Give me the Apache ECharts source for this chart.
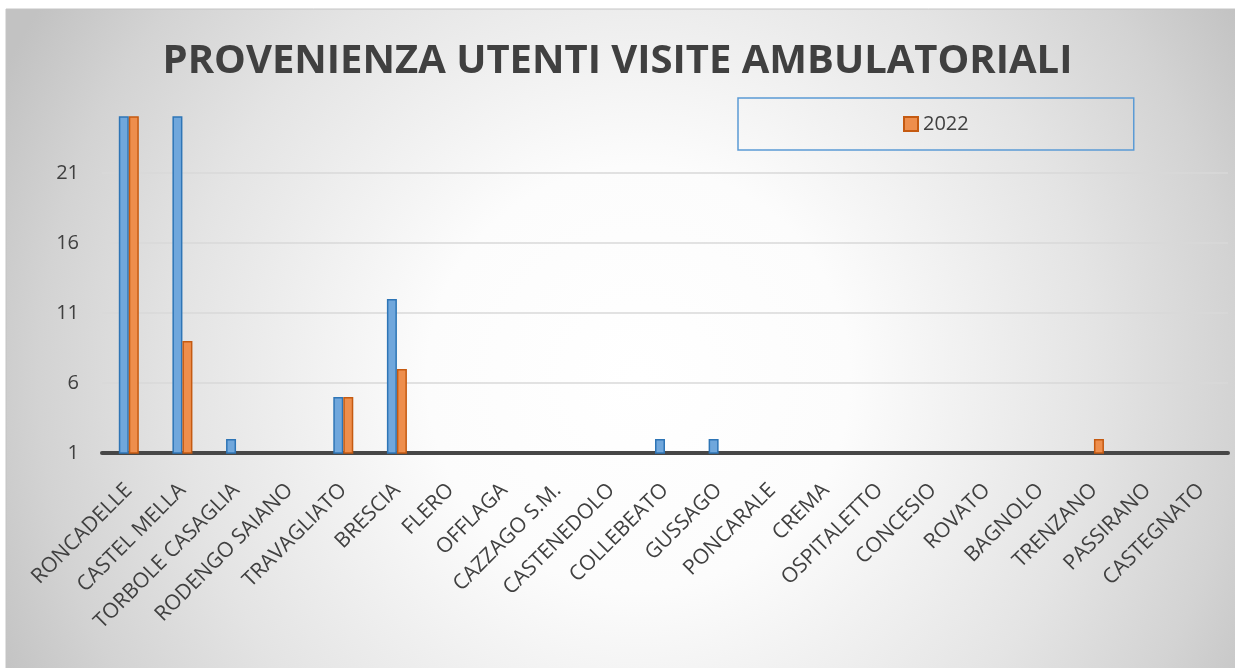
<!DOCTYPE html>
<html>
<head>
<meta charset="utf-8">
<script src="https://cdn.jsdelivr.net/npm/echarts@6/dist/echarts.min.js"></script>
<style>
  html, body { margin: 0; padding: 0; background: #fff; }
  #chart { width: 1235px; height: 668px; }
</style>
</head>
<body>
<div id="chart"></div>
<script>
const categories = ['RONCADELLE', 'CASTEL MELLA', 'TORBOLE CASAGLIA', 'RODENGO SAIANO', 'TRAVAGLIATO',
  'BRESCIA', 'FLERO', 'OFFLAGA', 'CAZZAGO S.M.', 'CASTENEDOLO', 'COLLEBEATO', 'GUSSAGO',
  'PONCARALE', 'CREMA', 'OSPITALETTO', 'CONCESIO', 'ROVATO', 'BAGNOLO', 'TRENZANO',
  'PASSIRANO', 'CASTEGNATO'];
// blue series (not listed in the legend)
const values2021 = [45, 32, 2, 0, 5, 12, 0, 1, 0, 0, 2, 2, 1, 0, 1, 1, 1, 1, 1, 1, 1];
const values2022 = [38, 9, 1, 1, 5, 7, 0, 1, 1, 1, 1, 1, 1, 1, 0, 0, 0, 0, 2, 0, 0];
const yMin = 1;
const yMax = 25;
const yStep = 5;

const chart = echarts.init(document.getElementById('chart'));

const option = {
  animation: false,
  graphic: [{
    type: 'rect',
    z: -10,
    silent: true,
    shape: { x: 6, y: 9, width: 1240, height: 670 },
    style: {
      fill: new echarts.graphic.RadialGradient(0.51, 0.55, 1.05, [
        { offset: 0, color: '#ffffff' },
        { offset: 0.3, color: '#fcfcfc' },
        { offset: 0.65, color: '#e4e4e4' },
        { offset: 0.85, color: '#d3d3d3' },
        { offset: 1, color: '#c2c2c2' }
      ]),
      stroke: '#c4c4c4',
      lineWidth: 1
    }
  }],
  title: {
    text: 'PROVENIENZA UTENTI VISITE AMBULATORIALI',
    left: 'center',
    top: 37,
    textStyle: {
      fontFamily: 'Open Sans',
      fontWeight: 'bold',
      fontSize: 40,
      color: '#404040'
    }
  },
  legend: {
    data: ['2022'],
    left: 738,
    top: 98,
    padding: [16, 165],
    borderColor: '#5b9bd5',
    borderWidth: 1.5,
    itemWidth: 14,
    itemHeight: 14,
    icon: 'rect',
    textStyle: { fontFamily: 'Open Sans', fontSize: 20, color: '#404040' }
  },
  grid: { left: 102, right: 7, top: 117, bottom: 215 },
  xAxis: {
    type: 'category',
    data: categories,
    axisLine: { lineStyle: { color: '#474747', width: 4 } },
    axisTick: { show: false },
    axisLabel: {
      rotate: 45,
      interval: 0,
      margin: 34,
      fontFamily: 'Open Sans',
      fontSize: 21,
      color: '#404040'
    }
  },
  yAxis: {
    type: 'value',
    min: yMin,
    max: yMax,
    interval: yStep,
    axisLine: { show: false },
    axisTick: { show: false },
    axisLabel: {
      showMaxLabel: false,
      margin: 23,
      fontFamily: 'Open Sans',
      fontSize: 20,
      color: '#404040'
    },
    splitLine: {
      showMinLine: false,
      showMaxLine: false,
      lineStyle: { color: '#d9d9d9', width: 1.5 }
    }
  },
  series: [
    {
      name: '2021',
      type: 'bar',
      data: values2021,
      barWidth: 10,
      barGap: '0%',
      itemStyle: { color: '#70a7dc', borderColor: '#2e75b6', borderWidth: 1.5 }
    },
    {
      name: '2022',
      type: 'bar',
      data: values2022,
      barWidth: 10,
      barGap: '0%',
      itemStyle: { color: '#ee8e4c', borderColor: '#c55a11', borderWidth: 1.5 }
    }
  ]
};

chart.setOption(option);
</script>
</body>
</html>
